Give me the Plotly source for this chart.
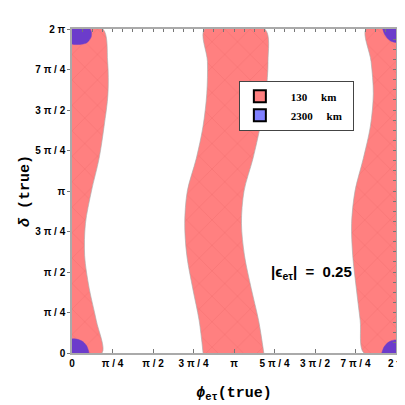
import numpy as np
import plotly.graph_objects as go

PI = np.pi

# delta (true) sample heights, in units of pi
delta_pi = [0.0, 0.2, 0.4, 0.6, 0.8, 1.0, 1.2, 1.4, 1.6, 1.8, 2.0]

# 130 km allowed bands: edges in phi_et (true), units of pi
band1_right = [0.185, 0.15, 0.106, 0.078, 0.083, 0.12, 0.167, 0.198, 0.222, 0.22, 0.19]
band2_left = [0.809, 0.785, 0.745, 0.709, 0.696, 0.712, 0.767, 0.809, 0.832, 0.836, 0.819]
band2_right = [1.184, 1.152, 1.106, 1.065, 1.046, 1.062, 1.117, 1.162, 1.196, 1.21, 1.19]
band3_left = [1.802, 1.779, 1.755, 1.733, 1.726, 1.747, 1.798, 1.842, 1.86, 1.846, 1.815]

# 2300 km allowed corner islands (phi, delta), units of pi
blob_bl_x = [0.0, 0.0, 0.04, 0.07, 0.09, 0.1, 0.105]
blob_bl_y = [0.0, 0.086, 0.083, 0.068, 0.045, 0.02, 0.0]
blob_tl_x = [0.0, 0.0, 0.05, 0.085, 0.105, 0.118, 0.12, 0.112]
blob_tl_y = [2.0, 1.908, 1.905, 1.912, 1.928, 1.95, 1.98, 2.0]
blob_tr_x = [2.0, 2.0, 1.97, 1.945, 1.928, 1.918]
blob_tr_y = [2.0, 1.918, 1.925, 1.945, 1.97, 2.0]
blob_br_x = [2.0, 2.0, 1.97, 1.945, 1.925, 1.912]
blob_br_y = [0.0, 0.08, 0.075, 0.06, 0.035, 0.0]

tick_labels = ["0", "π / 4", "π / 2", "3 π / 4", "π", "5 π / 4", "3 π / 2", "7 π / 4", "2 π"]

RED = "#ff8080"
BLUE = "#8080ff"
PURPLE = "#6c3ccb"

pattern = dict(shape="x", bgcolor=RED, fgcolor="#e86262", size=18, solidity=0.06)
edge = dict(color="rgba(170,170,170,0.8)", width=0.8, shape="spline", smoothing=0.9)


def pi_arr(v):
    return np.array(v) * PI


fig = go.Figure()

d = pi_arr(delta_pi)
polys = [
    (np.concatenate([[0.0], pi_arr(band1_right), [0.0]]), np.concatenate([[0.0], d, [2 * PI]])),
    (np.concatenate([pi_arr(band2_left), pi_arr(band2_right)[::-1]]), np.concatenate([d, d[::-1]])),
    (np.concatenate([[2 * PI], pi_arr(band3_left), [2 * PI]]), np.concatenate([[0.0], d, [2 * PI]])),
]
for px, py in polys:
    fig.add_trace(go.Scatter(
        x=px, y=py, mode="lines", fill="toself", fillcolor=RED, fillpattern=pattern,
        line=edge, hoverinfo="skip", showlegend=False,
    ))

for bx, by in [(blob_bl_x, blob_bl_y), (blob_tl_x, blob_tl_y), (blob_tr_x, blob_tr_y), (blob_br_x, blob_br_y)]:
    fig.add_trace(go.Scatter(
        x=pi_arr(bx), y=pi_arr(by), mode="lines", fill="toself", fillcolor=PURPLE,
        line=dict(color=PURPLE, width=0.5, shape="spline", smoothing=0.6),
        hoverinfo="skip", showlegend=False,
    ))

# legend entries
nb = "\u00a0"
for name, col in [(nb * 4 + "130" + nb * 5 + "km" + nb * 4, RED), (nb * 4 + "2300" + nb * 5 + "km" + nb * 2, BLUE)]:
    fig.add_trace(go.Scatter(
        x=[None], y=[None], mode="markers", name=name,
        marker=dict(symbol="square", size=12, color=col, line=dict(color="black", width=2)),
    ))

# minor-tick frame on top / right
fig.add_trace(go.Scatter(x=[None], y=[None], xaxis="x2", yaxis="y2", showlegend=False))

tickvals = [k * PI / 4 for k in range(9)]
minor_vals = [k * PI / 16 for k in range(33)]
tick_font = dict(family="Liberation Sans", size=10, color="black", weight="bold")
mono = "Liberation Mono"

# page body adds an 8px offset, so the figure is 397px and margins are shifted
fig.update_layout(
    width=397, height=397,
    margin=dict(l=64, r=9, t=21, b=52),
    paper_bgcolor="white", plot_bgcolor="white",
    xaxis=dict(
        range=[0, 2 * PI], tickvals=tickvals, ticktext=tick_labels, tickfont=tick_font,
        ticks="inside", ticklen=4, tickcolor="#777", showline=True, linecolor="#aaa",
        linewidth=1.5, showgrid=False, zeroline=False, automargin=False,
        ticklabeloverflow="allow",
        title=dict(text="<i>ϕ</i><sub>eτ</sub>(true)", standoff=19,
                   font=dict(family=mono, size=15, color="black", weight="bold")),
    ),
    yaxis=dict(
        range=[0, 2 * PI], tickvals=tickvals, ticktext=tick_labels, tickfont=tick_font,
        ticks="outside", ticklen=3, tickcolor="#777", showline=True, linecolor="#aaa",
        linewidth=1.5, showgrid=False, zeroline=False, automargin=False,
        title=dict(text="<i>δ</i>" + nb + "(true)", standoff=2,
                   font=dict(family=mono, size=15, color="black", weight="bold")),
    ),
    xaxis2=dict(
        overlaying="x", side="top", range=[0, 2 * PI], tickvals=minor_vals, ticks="inside",
        ticklen=3, tickcolor="#777", showticklabels=False, showline=True, linecolor="#aaa",
        linewidth=1.5, showgrid=False, zeroline=False, automargin=False,
    ),
    yaxis2=dict(
        overlaying="y", side="right", range=[0, 2 * PI], tickvals=minor_vals, ticks="inside",
        ticklen=3, tickcolor="#777", showticklabels=False, showline=True, linecolor="#aaa",
        linewidth=1.5, showgrid=False, zeroline=False, automargin=False,
    ),
    legend=dict(
        x=0.515, y=0.84, xanchor="left", yanchor="top", bgcolor="white",
        bordercolor="#444", borderwidth=1, tracegroupgap=0,
        font=dict(family="Liberation Serif", size=11, color="black", weight="bold"),
    ),
    annotations=[dict(
        x=1.478 * PI, y=0.494 * PI, xref="x", yref="y", showarrow=False,
        text="|ϵ<sub>eτ</sub>|" + nb * 2 + "=" + nb * 2 + "0.25",
        font=dict(family="Liberation Sans", size=15, color="black", weight="bold"),
    )],
)

fig.write_html("out.html")
